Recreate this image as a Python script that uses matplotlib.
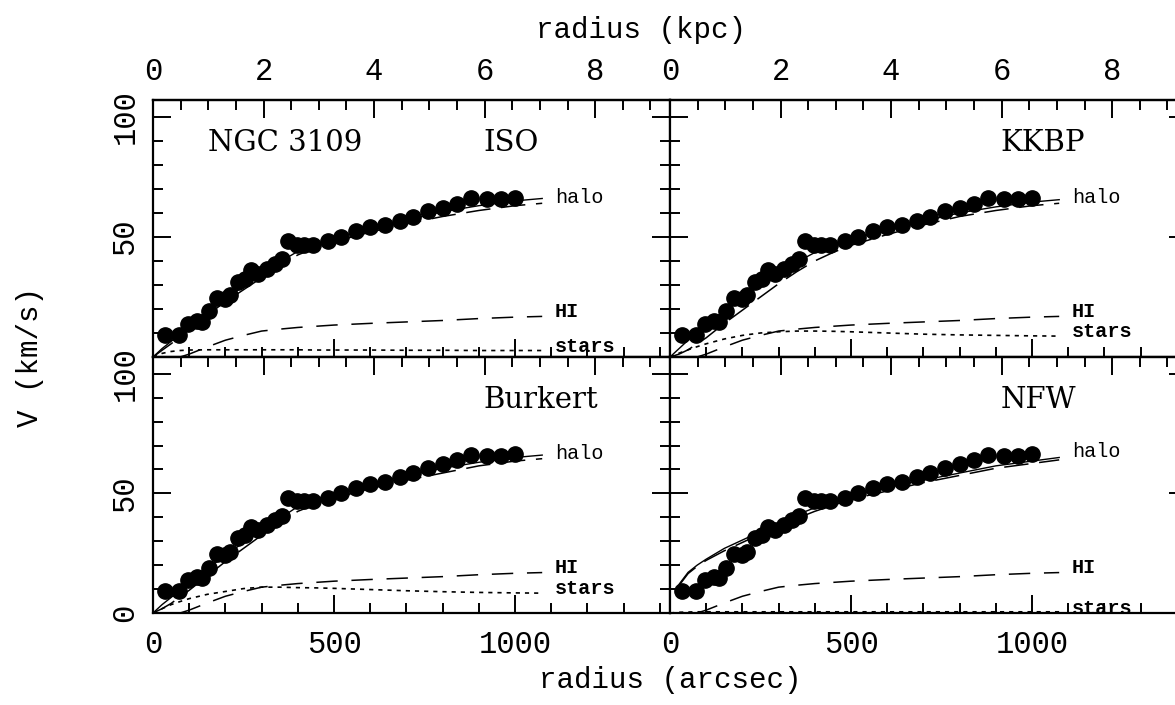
import matplotlib.pyplot as plt
from matplotlib.ticker import FixedLocator, MultipleLocator

# --- Data ---

# observed rotation curve of NGC 3109 (same points in every panel)
r_obs = [33, 73, 98, 121, 134, 156, 178, 199, 214, 236, 254, 272, 291, 314, 337,
         355, 374, 397, 417, 441, 482, 519, 561, 599, 641, 681, 719, 760, 800, 839,
         878, 922, 961, 1000]
v_obs = [9.3, 9.3, 13.9, 14.9, 14.6, 19.0, 24.6, 24.3, 25.7, 31.2, 32.6, 36.1, 34.7,
         36.8, 38.9, 40.7, 48.2, 46.8, 46.8, 46.8, 48.2, 50.0, 52.4, 54.0, 54.9, 56.7,
         58.4, 60.7, 62.2, 63.9, 66.0, 65.7, 65.6, 66.3]

# model radii (arcsec)
r_mod = [0, 25, 50, 75, 100, 150, 200, 250, 300, 350, 400, 450, 500, 600, 700,
         800, 900, 1000, 1075]

# HI contribution (same in all panels), None where not drawn
v_hi = [None, None, None, 0.0, 1.2, 4.2, 7.0, 9.0, 10.8, 11.6, 12.3, 12.8, 13.3,
        14.0, 14.6, 15.2, 16.0, 16.6, 16.9]

models = ["ISO", "KKBP", "Burkert", "NFW"]

v_total = {
    "ISO":     [0, 3.5, 6.5, 9.5, 12.5, 18.5, 24.0, 29.5, 34.5, 39.5, 44.0, 47.0,
                49.5, 53.5, 57.0, 60.5, 63.0, 65.0, 66.0],
    "KKBP":    [0, 3.5, 7.0, 10.5, 13.5, 19.0, 24.5, 30.0, 35.0, 39.5, 43.5, 46.5,
                49.0, 53.0, 56.5, 60.0, 62.5, 64.5, 65.5],
    "Burkert": [0, 3.5, 6.5, 9.5, 12.5, 18.5, 24.0, 29.5, 34.5, 39.5, 44.5, 47.5,
                50.0, 54.0, 57.5, 60.5, 63.0, 65.0, 66.0],
    "NFW":     [None, 12.0, 17.0, 20.0, 22.5, 27.0, 30.5, 34.0, 37.5, 41.0, 44.0,
                46.5, 49.0, 52.5, 55.5, 58.5, 61.5, 63.5, 65.0],
}
v_halo = {
    "ISO":     [0, 2.8, 5.5, 8.5, 11.5, 17.5, 23.0, 28.0, 33.0, 38.0, 42.5, 45.5,
                48.0, 52.0, 55.5, 58.5, 61.0, 63.0, 64.0],
    "KKBP":    [0, 1.2, 3.0, 5.5, 8.0, 14.0, 19.5, 25.0, 30.5, 35.5, 40.0, 43.5,
                46.5, 51.0, 55.0, 58.5, 61.0, 63.0, 64.0],
    "Burkert": [0, 1.8, 4.0, 6.8, 9.5, 15.5, 21.5, 27.0, 32.5, 37.5, 42.5, 45.5,
                48.0, 52.0, 55.5, 58.5, 61.5, 63.5, 64.5],
    "NFW":     [None, 11.5, 16.5, 19.5, 22.0, 26.0, 29.5, 33.0, 36.5, 39.5, 42.5,
                45.0, 47.5, 51.0, 54.5, 57.5, 60.5, 62.5, 64.0],
}
v_stars = {
    "ISO":     [0, 1.5, 2.3, 2.7, 2.9, 3.0, 3.0, 3.0, 3.0, 3.0, 3.0, 2.9, 2.9, 2.9,
                2.8, 2.8, 2.7, 2.7, 2.7],
    "KKBP":    [0, 1.6, 3.0, 4.3, 5.5, 7.5, 9.0, 10.0, 10.5, 10.8, 10.8, 10.7, 10.5,
                10.0, 9.5, 9.2, 9.0, 8.8, 8.7],
    "Burkert": [0, 1.8, 3.5, 4.8, 6.0, 7.8, 9.0, 10.2, 10.8, 10.8, 10.6, 10.5, 10.3,
                9.8, 9.3, 8.9, 8.6, 8.4, 8.3],
    "NFW":     [0, 0.3, 0.4, 0.5, 0.5, 0.5, 0.5, 0.5, 0.5, 0.5, 0.5, 0.5, 0.5, 0.5,
                0.5, 0.5, 0.5, 0.5, 0.5],
}

# label heights (km/s) for halo / HI / stars
label_v = {
    "ISO":     (66.5, 18.8, 4.2),
    "KKBP":    (66.5, 18.8, 10.8),
    "Burkert": (66.5, 19.0, 10.3),
    "NFW":     (67.5, 19.0, 2.0),
}

kpc_ticks = [0, 2, 4, 6, 8]
arcsec_ticks = [0, 500, 1000]

KPC_PER_ARCSEC = 0.00655
XMAX = 1428
YMAX = 107

MONO = "Liberation Mono"
SERIF = "DejaVu Serif"


def a2k(a):
    return a * KPC_PER_ARCSEC


def k2a(k):
    return k / KPC_PER_ARCSEC


def draw_panel(ax, model, top_labels, bottom_labels, left_labels, show_zero):
    ax.plot(r_mod, v_total[model], color="black", lw=1.0, zorder=2)
    ax.plot(r_mod, v_halo[model], color="black", lw=1.1, dashes=(16, 7), zorder=2)
    ax.plot(r_mod, v_hi, color="black", lw=1.1, dashes=(14, 9), zorder=2)
    ax.plot(r_mod, v_stars[model], color="black", lw=1.2, dashes=(2.5, 3), zorder=2)
    ax.plot(r_obs, v_obs, "o", color="black", ms=11, zorder=3)

    vh, vhi, vst = label_v[model]
    ax.text(1110, vh, "halo", fontsize=14.5, family=MONO, va="center", ha="left")
    ax.text(1110, vhi, "HI", fontsize=14.5, family=MONO, va="center", ha="left",
            fontweight="bold")
    ax.text(1110, vst, "stars", fontsize=14.5, family=MONO, va="center", ha="left",
            fontweight="bold")

    ax.text(913, 89, model, fontsize=21, family=SERIF, va="center", ha="left")

    ax.set_xlim(0, XMAX)
    ax.set_ylim(0, YMAX)
    for s in ax.spines.values():
        s.set_linewidth(1.6)

    ax.xaxis.set_major_locator(FixedLocator(arcsec_ticks))
    ax.xaxis.set_minor_locator(MultipleLocator(100))
    ax.set_yticks([0, 50, 100])
    ax.yaxis.set_minor_locator(MultipleLocator(10))
    ax.tick_params(which="both", direction="in", top=False, right=True, width=1.4)
    ax.tick_params(which="major", length=13)
    ax.tick_params(which="minor", length=7)
    ax.tick_params(axis="x", labelbottom=bottom_labels, pad=12, labelsize=22)
    ax.tick_params(axis="y", labelleft=left_labels, pad=9, labelsize=22)
    for lab in ax.get_xticklabels() + ax.get_yticklabels():
        lab.set_family(MONO)
    if left_labels:
        ax.set_yticklabels(["0" if show_zero else "", "50", "100"], family=MONO)
        for lab in ax.get_yticklabels():
            lab.set_rotation(90)
            lab.set_va("center")

    sec = ax.secondary_xaxis("top", functions=(a2k, k2a))
    sec.xaxis.set_major_locator(FixedLocator(kpc_ticks))
    sec.xaxis.set_minor_locator(MultipleLocator(0.5))
    sec.tick_params(which="both", direction="in", width=1.4)
    sec.tick_params(which="major", length=13)
    sec.tick_params(which="minor", length=7)
    sec.tick_params(axis="x", labeltop=top_labels, pad=9, labelsize=22)
    for lab in sec.get_xticklabels():
        lab.set_family(MONO)
    sec.spines["top"].set_linewidth(1.6)


# --- Figure ---

fig = plt.figure(figsize=(11.75, 7.05), dpi=100)

W, H = 1175, 705
left_x, mid_x = 153, 670
pan_w = 517
top_y, mid_y, bot_y = 100, 357, 613

def axes_px(x0, y_top, w, h):
    return fig.add_axes([x0 / W, 1 - (y_top + h) / H, w / W, h / H])

ax_iso = axes_px(left_x, top_y, pan_w, mid_y - top_y)
ax_kkbp = axes_px(mid_x, top_y, pan_w, mid_y - top_y)
ax_bur = axes_px(left_x, mid_y, pan_w, bot_y - mid_y)
ax_nfw = axes_px(mid_x, mid_y, pan_w, bot_y - mid_y)

draw_panel(ax_iso, "ISO", True, False, True, False)
draw_panel(ax_kkbp, "KKBP", True, False, False, False)
draw_panel(ax_bur, "Burkert", False, True, True, True)
draw_panel(ax_nfw, "NFW", False, True, False, False)

ax_iso.text(152, 89, "NGC 3109", fontsize=21, family=SERIF, va="center", ha="left")

fig.text(641 / W, 1 - 30 / H, "radius (kpc)", fontsize=21, family=MONO,
         ha="center", va="center")
fig.text(670 / W, 1 - 680 / H, "radius (arcsec)", fontsize=21, family=MONO,
         ha="center", va="center")
fig.text(30 / W, 1 - 357 / H, "V (km/s)", fontsize=21, family=MONO,
         rotation=90, ha="center", va="center")

plt.savefig("out.png", dpi=100)
plt.close()
